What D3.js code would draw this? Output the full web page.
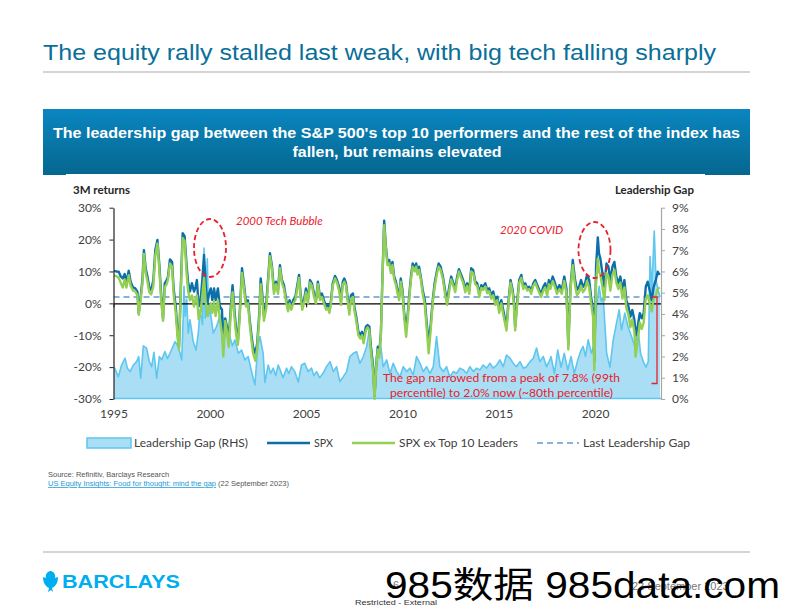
<!DOCTYPE html>
<html><head><meta charset="utf-8">
<script src="https://cdn.jsdelivr.net/npm/d3@7/dist/d3.min.js"></script>
<style>
body{margin:0;background:#fff;}
svg{display:block;}
</style></head>
<body>
<svg id="c" width="792" height="612"></svg>
<script>
// ---------- DATA ----------
const spxDates = [1995.03,1995.15,1995.27,1995.37,1995.48,1995.58,1995.67,1995.79,1995.89,1996.01,1996.13,1996.24,1996.31,1996.41,1996.50,1996.58,1996.67,1996.76,1996.86,1996.96,
1997.07,1997.17,1997.28,1997.38,1997.48,1997.57,1997.66,1997.76,1997.83,1997.93,1998.04,1998.12,1998.23,1998.33,1998.40,1998.50,1998.59,1998.69,1998.80,1998.87,1998.97,
1999.07,1999.18,1999.26,1999.33,1999.42,1999.53,1999.61,1999.70,1999.78,1999.87,1999.96,2000.05,2000.13,2000.22,2000.30,2000.42,2000.52,2000.63,2000.70,2000.80,2000.89,2000.98,
2001.08,2001.18,2001.29,2001.37,2001.46,2001.56,2001.67,2001.77,2001.88,2001.98,2002.07,2002.15,2002.24,2002.36,2002.46,2002.57,2002.64,2002.72,2002.81,2002.93,
2003.02,2003.12,2003.22,2003.33,2003.43,2003.54,2003.64,2003.74,2003.85,2003.97,2004.06,2004.14,2004.23,2004.33,2004.44,2004.54,2004.63,2004.71,2004.80,2004.89,2004.99,
2005.09,2005.20,2005.30,2005.41,2005.51,2005.61,2005.72,2005.82,2005.92,2006.04,2006.13,2006.21,2006.29,2006.38,2006.50,2006.60,2006.71,2006.81,2006.90,2006.98,
2007.07,2007.15,2007.24,2007.33,2007.43,2007.50,2007.60,2007.71,2007.81,2007.90,2007.98,2008.10,2008.19,2008.28,2008.36,2008.47,2008.55,2008.64,2008.72,2008.79,2008.88,2008.95,
2009.05,2009.14,2009.22,2009.31,2009.40,2009.48,2009.57,2009.66,2009.74,2009.83,2009.91,2010.00,2010.09,2010.19,2010.28,2010.36,2010.45,2010.53,2010.64,2010.71,2010.78,2010.86,2010.95,
2011.05,2011.16,2011.26,2011.36,2011.47,2011.57,2011.67,2011.78,2011.88,2011.98,2012.10,2012.22,2012.32,2012.43,2012.53,2012.64,2012.74,2012.84,2012.93,
2013.05,2013.15,2013.26,2013.36,2013.47,2013.57,2013.67,2013.78,2013.88,2013.99,2014.09,2014.19,2014.30,2014.40,2014.50,2014.61,2014.71,2014.82,2014.92,
2015.02,2015.13,2015.23,2015.33,2015.40,2015.51,2015.61,2015.72,2015.78,2015.85,2015.96,2016.06,2016.17,2016.27,2016.37,2016.48,2016.58,2016.68,2016.79,2016.89,
2017.00,2017.10,2017.20,2017.31,2017.41,2017.51,2017.60,2017.68,2017.80,2017.92,2018.02,2018.15,2018.27,2018.40,2018.51,2018.61,2018.72,2018.84,2018.96,
2019.06,2019.17,2019.27,2019.37,2019.48,2019.58,2019.69,2019.79,2019.89,2019.96,2020.05,2020.14,2020.20,2020.27,2020.38,2020.48,2020.59,2020.69,2020.79,2020.90,
2021.00,2021.10,2021.21,2021.31,2021.42,2021.52,2021.62,2021.73,2021.83,2021.93,2022.04,2022.10,2022.21,2022.32,2022.42,2022.52,2022.63,2022.73,2022.83,2022.94,
2023.04,2023.15,2023.25,2023.35];

const spx = [10.2,10.0,9.9,8.5,7.8,9.2,6.8,10.2,6.8,5.0,4.7,3.7,-3.1,2.1,7.3,16.7,11.0,8.4,5.0,4.2,
7.3,16.7,19.9,12.0,2.1,-4.7,6.3,7.3,8.4,13.8,13.0,4.7,-1.0,-9.4,-13.6,6.3,22.0,21.1,11.5,6.8,3.7,
6.3,3.7,5.2,7.3,-1.0,1.6,7.3,15.2,6.3,0.0,3.1,4.7,1.0,4.7,1.0,4.7,-1.0,-2.0,-13.6,-4.7,-7.3,-11.5,
-2.0,5.7,-3.0,-8.4,-11.5,-2.0,11.0,6.3,0.0,1.0,-5.2,-9.4,-13.6,-15.7,-12.5,-3.0,7.8,3.1,-3.7,0.0,
7.3,15.7,12.0,4.2,6.8,4.2,12.0,7.3,5.7,1.0,-1.6,1.0,-1.0,1.0,2.0,5.7,8.9,3.1,-1.0,1.0,4.7,
1.0,7.3,6.3,3.1,1.0,6.8,2.0,3.1,1.0,-1.0,-0.5,-2.0,1.0,6.3,8.6,7.3,5.2,1.0,6.8,7.8,
6.3,2.0,-2.0,2.6,3.1,-1.0,-4.2,-8.9,-9.9,-8.9,-11.5,-7.3,-6.8,-7.3,-13.6,-19.9,-29.0,-18.8,-13.6,-15.7,-9.4,6.3,
25.9,17.8,13.0,13.6,10.4,13.0,8.4,6.8,4.2,2.1,7.8,4.2,-3.1,-8.0,-3.1,3.1,8.9,12.5,11.0,12.5,9.9,11.5,8.4,
4.2,1.0,-6.3,-12.5,-6.3,1.0,6.3,9.9,12.5,11.5,8.4,3.7,1.0,5.2,8.4,6.3,4.7,8.4,10.7,
8.9,7.3,4.7,6.3,4.2,11.0,10.4,6.8,6.3,3.1,5.7,5.2,6.3,4.2,4.7,2.6,3.7,1.0,2.1,
-1.6,1.0,-2.1,-5.2,-7.3,1.0,7.3,4.2,1.0,-7.3,1.0,7.3,8.9,5.2,6.3,4.7,5.2,3.7,6.3,7.3,
5.7,4.2,3.1,5.2,6.3,3.7,7.3,5.7,8.4,6.3,4.2,5.7,4.2,8.4,4.7,-13.0,5.2,13.6,7.3,
4.2,5.2,7.3,5.2,6.3,8.9,7.3,2.1,-2.1,-18.0,11.5,20.7,15.7,14.1,9.4,5.2,12.5,11.5,7.3,11.5,
13.0,8.4,6.3,8.4,4.0,7.3,1.0,-1.0,-4.2,-2.1,-5.2,-10.0,-7.3,-3.1,-4.7,-3.1,5.2,6.8,4.2,1.0,
5.2,7.3,9.9,8.9];

const spxEx = [8.8,8.5,8.0,6.5,5.0,7.5,5.0,8.8,5.5,4.0,3.8,2.5,-3.6,1.0,6.0,15.5,9.5,7.0,3.5,2.8,
5.5,15.0,18.8,10.5,0.5,-5.5,5.0,6.0,7.5,12.5,11.5,3.0,-3.0,-11.0,-14.5,4.5,20.5,19.5,9.0,4.0,1.0,
2.5,-1.0,1.5,2.5,-5.0,-2.5,2.5,8.0,1.0,-4.0,-2.0,0.0,-3.0,0.5,-4.0,1.0,-5.0,-9.4,-16.7,-5.5,-9.0,-13.6,
-4.0,3.5,-5.0,-10.0,-13.0,-3.5,9.5,5.0,-1.0,0.0,-6.5,-11.0,-15.5,-18.0,-14.0,-4.5,6.0,1.5,-5.5,-1.5,
6.0,14.8,11.0,3.0,6.0,3.0,11.0,6.5,4.5,0.0,-2.5,0.0,-2.0,0.0,1.0,4.5,8.0,2.0,-2.0,0.0,3.5,
0.0,6.5,5.5,2.0,0.0,6.0,1.0,2.0,0.0,-2.0,-1.5,-3.0,0.0,5.5,7.8,6.5,4.0,-0.5,5.8,6.8,
5.5,1.0,-3.5,1.5,2.0,-2.0,-5.5,-10.0,-11.0,-10.0,-12.5,-8.5,-7.5,-8.5,-15.0,-21.0,-30.0,-19.5,-14.5,-17.0,-10.0,5.5,
24.5,17.0,12.0,12.5,9.5,12.0,7.5,5.8,3.2,1.0,6.8,3.0,-4.5,-10.5,-4.5,2.0,8.0,11.5,10.0,11.5,9.0,10.5,7.5,
3.0,-0.5,-8.0,-15.7,-8.0,0.0,5.0,9.0,11.5,10.5,7.5,2.5,-0.5,4.0,7.5,5.5,3.5,7.5,10.0,
8.0,6.5,3.5,5.5,3.0,10.0,9.5,6.0,5.5,2.0,4.8,4.2,5.3,3.2,3.8,1.5,2.5,-0.5,1.0,
-3.0,0.0,-3.5,-6.5,-8.5,0.0,6.5,3.2,0.0,-8.5,0.0,6.5,8.0,4.5,5.5,4.0,4.5,3.0,5.5,6.5,
4.8,3.3,2.0,4.0,5.0,2.5,6.0,4.5,7.0,5.0,3.0,4.5,3.0,7.0,3.0,-14.5,4.0,12.0,5.5,
2.5,3.5,5.5,3.5,4.5,7.0,5.0,0.0,-4.0,-21.0,6.0,14.0,10.0,9.0,5.0,1.0,9.5,8.5,4.0,9.0,
10.5,6.5,4.5,6.5,1.5,5.0,-1.5,-3.5,-7.5,-5.0,-9.0,-16.7,-12.0,-6.0,-8.0,-6.0,1.5,2.5,0.0,-2.5,
1.5,2.5,4.5,5.0];

const gapDates = [1995.03,1995.25,1995.42,1995.60,1995.72,1995.86,1996.03,1996.20,1996.31,1996.41,1996.55,1996.72,1996.85,1996.98,1997.10,1997.24,1997.38,1997.50,1997.67,1997.80,1997.93,
1998.05,1998.19,1998.37,1998.54,1998.62,1998.66,1998.72,1998.80,1998.88,1998.97,1999.14,1999.28,1999.40,1999.49,1999.62,1999.70,1999.76,1999.87,1999.93,
2000.01,2000.18,2000.35,2000.53,2000.70,2000.87,2001.04,2001.17,2001.30,2001.48,2001.65,2001.82,2001.99,2002.17,2002.34,2002.50,2002.60,2002.77,2002.86,
2003.03,2003.16,2003.29,2003.42,2003.55,2003.68,2003.80,2003.98,2004.10,2004.24,2004.41,2004.59,2004.76,2004.93,2005.10,2005.28,2005.40,2005.54,2005.70,2005.88,
2006.04,2006.24,2006.41,2006.58,2006.75,2006.93,2007.10,2007.27,2007.45,2007.62,2007.79,2007.97,2008.14,2008.28,2008.40,2008.50,2008.57,2008.66,2008.74,2008.86,
2009.00,2009.18,2009.35,2009.52,2009.70,2009.87,2010.04,2010.22,2010.39,2010.56,2010.73,2010.91,2011.08,2011.25,2011.43,2011.60,2011.77,2011.94,
2012.12,2012.29,2012.46,2012.64,2012.81,2012.98,2013.16,2013.33,2013.50,2013.68,2013.85,2014.02,2014.19,2014.37,2014.54,2014.71,2014.89,
2015.06,2015.23,2015.40,2015.58,2015.75,2015.92,2016.10,2016.27,2016.44,2016.62,2016.79,2016.96,2017.13,2017.31,2017.48,2017.65,2017.71,2017.89,
2018.06,2018.23,2018.40,2018.58,2018.75,2018.92,2019.10,2019.27,2019.38,2019.50,2019.64,2019.81,2019.96,2020.07,2020.21,2020.32,2020.42,2020.60,2020.77,2020.94,
2021.11,2021.25,2021.37,2021.54,2021.71,2021.89,2022.06,2022.23,2022.36,2022.50,2022.64,2022.76,2022.85,2022.94,2023.07,2023.16,2023.28,2023.37];

const gap = [1.50,1.05,1.60,1.92,1.45,1.29,1.60,1.76,2.00,0.98,2.50,2.39,1.80,1.52,2.20,0.98,2.00,1.84,2.23,1.90,2.15,
2.40,2.70,2.47,1.84,3.90,5.30,3.90,4.70,3.10,3.73,2.70,2.30,3.10,4.20,3.50,7.10,3.80,6.60,3.90,
4.20,3.10,3.40,3.95,3.80,3.40,2.94,2.50,2.78,2.15,2.30,1.84,2.00,1.29,0.66,2.60,2.94,2.15,0.78,
1.60,1.20,1.45,1.10,1.60,1.30,1.00,1.45,1.20,1.52,1.29,0.80,1.60,1.68,1.29,1.45,1.10,1.29,1.00,1.21,
1.50,1.76,1.29,1.52,0.82,1.05,1.29,2.00,2.15,2.23,1.68,2.00,2.47,3.26,2.30,1.60,0.10,1.50,2.15,2.60,
1.52,1.84,1.20,1.68,1.29,1.05,1.52,1.29,1.45,1.13,2.00,1.68,1.29,1.52,1.21,1.52,2.94,1.52,
1.29,1.52,1.05,1.29,1.21,1.45,1.37,1.21,1.52,1.29,1.45,1.37,1.60,1.45,1.68,1.45,1.60,
1.84,1.52,2.07,1.92,1.68,1.52,1.76,1.45,1.52,1.76,1.92,2.40,1.76,2.00,1.52,1.84,2.00,1.20,
2.30,1.50,2.15,1.37,2.00,1.20,1.84,2.30,2.47,2.00,2.78,2.15,2.60,4.35,5.30,4.60,4.80,2.15,1.50,2.78,
3.57,4.20,3.25,4.04,3.40,2.94,2.47,3.25,2.15,1.76,1.50,1.76,6.70,5.10,7.90,5.60,5.10,4.80];

const lastGap = 2.0;
const leftTicks = [-30,-20,-10,0,10,20,30];
const rightTicks = [0,1,2,3,4,5,6,7,8,9];
const yearTicks = [1995,2000,2005,2010,2015,2020];

// ---------- LAYOUT ----------
const svg = d3.select('#c');
const F = "Lato, 'Open Sans', sans-serif";
const A = "'Liberation Sans', Arial, sans-serif";

// title
svg.append('text').attr('x',43).attr('y',60).attr('font-family',A).attr('font-size',22)
  .attr('fill','#0a6f98').attr('textLength',673).attr('lengthAdjust','spacingAndGlyphs')
  .text('The equity rally stalled last weak, with big tech falling sharply');
svg.append('rect').attr('x',43).attr('y',71).attr('width',707).attr('height',2).attr('fill','#d4d4d4');

// header box
const defs = svg.append('defs');
const lg = defs.append('linearGradient').attr('id','hb').attr('x1',0).attr('y1',0).attr('x2',0).attr('y2',1);
lg.append('stop').attr('offset','0%').attr('stop-color','#0a86c0');
lg.append('stop').attr('offset','100%').attr('stop-color','#05678f');
svg.append('rect').attr('x',43).attr('y',109).attr('width',707).attr('height',66).attr('fill','url(#hb)');
svg.append('rect').attr('x',66).attr('y',174).attr('width',639).attr('height',2).attr('fill','#fff');
svg.append('text').attr('x',396.5).attr('y',138).attr('text-anchor','middle').attr('font-family',A)
  .attr('font-weight','bold').attr('font-size',15).attr('fill','#fff')
  .attr('textLength',687).attr('lengthAdjust','spacingAndGlyphs')
  .text("The leadership gap between the S&P 500's top 10 performers and the rest of the index has");
svg.append('text').attr('x',397).attr('y',157).attr('text-anchor','middle').attr('font-family',A)
  .attr('font-weight','bold').attr('font-size',15).attr('fill','#fff')
  .attr('textLength',209).attr('lengthAdjust','spacingAndGlyphs')
  .text('fallen, but remains elevated');

// chart scales
const x = d3.scaleLinear().domain([1995, 2023.42]).range([113.5, 661]);
const yL = d3.scaleLinear().domain([-30, 30]).range([399, 207.7]);
const yR = d3.scaleLinear().domain([0, 9]).range([399, 207.7]);

const g = svg.append('g');

// gap area
const gapData = d3.zip(gapDates, gap);
g.append('path').datum(gapData)
  .attr('d', d3.area().x(d=>x(d[0])).y0(yR(0)).y1(d=>yR(d[1])))
  .attr('fill','#a9def5');
g.append('path').datum(gapData)
  .attr('d', d3.line().x(d=>x(d[0])).y(d=>yR(d[1])))
  .attr('fill','none').attr('stroke','#5ec6ef').attr('stroke-width',1.6).attr('stroke-linejoin','round');
g.append('line').attr('x1',x(1995)).attr('x2',x(2023.42)).attr('y1',yR(0)-0.5).attr('y2',yR(0)-0.5)
  .attr('stroke','#5ec6ef').attr('stroke-width',1.5);

// dashed last gap line
g.append('line').attr('x1',x(1995)).attr('x2',x(2023.42)).attr('y1',yL(lastGap)).attr('y2',yL(lastGap))
  .attr('stroke','#86b2dc').attr('stroke-width',2).attr('stroke-dasharray','6,4');

// x axis at zero
const xAxis = g.append('g').attr('transform',`translate(0,${yL(0)})`)
  .call(d3.axisBottom(x).tickValues(yearTicks).tickFormat(d3.format('d')).tickSizeInner(4).tickSizeOuter(0));
xAxis.select('.domain').attr('stroke','#000').attr('stroke-width',1.2);
xAxis.selectAll('.tick line').attr('stroke','#000');
xAxis.selectAll('.tick text').attr('y', 418 - yL(0)).attr('dy',0).attr('font-family',F)
  .attr('font-size',12).attr('fill','#404040');

// series lines
const spxData = spxDates.map((t,i)=>[t, spx[i], spxEx[i]]);
g.append('path').datum(spxData)
  .attr('d', d3.line().x(d=>x(d[0])).y(d=>yL(d[1])))
  .attr('fill','none').attr('stroke','#0b6fa9').attr('stroke-width',2.4).attr('stroke-linejoin','round');
g.append('path').datum(spxData)
  .attr('d', d3.line().x(d=>x(d[0])).y(d=>yL(d[2])))
  .attr('fill','none').attr('stroke','#92cf52').attr('stroke-width',2.4).attr('stroke-linejoin','round');

// left axis
const la = g.append('g').attr('transform',`translate(${x(1995)},0)`)
  .call(d3.axisLeft(yL).tickValues(leftTicks).tickFormat(d=>d+'%').tickSizeInner(4).tickSizeOuter(0).tickPadding(8));
la.select('.domain').attr('stroke','#222').attr('stroke-width',1.2);
la.selectAll('.tick line').attr('stroke','#222');
la.selectAll('.tick text').attr('font-family',F).attr('font-size',12).attr('fill','#404040');

// right axis
const ra = g.append('g').attr('transform',`translate(${x(2023.42)},0)`)
  .call(d3.axisRight(yR).tickValues(rightTicks).tickFormat(d=>d+'%').tickSizeInner(4).tickSizeOuter(0).tickPadding(7));
ra.select('.domain').attr('stroke','#a6a6a6').attr('stroke-width',1.2);
ra.selectAll('.tick line').attr('stroke','#a6a6a6');
ra.selectAll('.tick text').attr('font-family',F).attr('font-size',12).attr('fill','#404040');

// axis titles
svg.append('text').attr('x',73).attr('y',194).attr('font-family',F).attr('font-weight','bold')
  .attr('font-size',11.5).attr('fill','#262626').text('3M returns');
svg.append('text').attr('x',694).attr('y',194).attr('text-anchor','end').attr('font-family',F).attr('font-weight','bold')
  .attr('font-size',11.5).attr('fill','#262626').text('Leadership Gap');

// annotations
const red = '#e8212b';
svg.append('ellipse').attr('cx',210).attr('cy',248).attr('rx',16).attr('ry',29)
  .attr('fill','none').attr('stroke',red).attr('stroke-width',1.8).attr('stroke-dasharray','5,3');
svg.append('ellipse').attr('cx',594.5).attr('cy',250).attr('rx',16).attr('ry',28)
  .attr('fill','none').attr('stroke',red).attr('stroke-width',1.8).attr('stroke-dasharray','5,3');
svg.append('text').attr('x',236).attr('y',225).attr('font-family',F).attr('font-style','italic')
  .attr('font-size',11.5).attr('fill',red).text('2000 Tech Bubble');
svg.append('text').attr('x',500).attr('y',234).attr('font-family',F).attr('font-style','italic')
  .attr('font-size',11.5).attr('fill',red).text('2020 COVID');
svg.append('text').attr('x',501.5).attr('y',381.5).attr('text-anchor','middle').attr('font-family',F)
  .attr('font-size',12).attr('fill',red).attr('textLength',237).attr('lengthAdjust','spacingAndGlyphs')
  .text('The gap narrowed from a peak of 7.8% (99th');
svg.append('text').attr('x',501.5).attr('y',397).attr('text-anchor','middle').attr('font-family',F)
  .attr('font-size',12).attr('fill',red).attr('textLength',223).attr('lengthAdjust','spacingAndGlyphs')
  .text('percentile) to 2.0% now (~80th percentile)');
svg.append('path').attr('d','M652,297 L657,297 L657,383.5 L651.5,383.5')
  .attr('fill','none').attr('stroke',red).attr('stroke-width',1.3);

// legend
const ly = 443;
svg.append('rect').attr('x',87).attr('y',ly-5).attr('width',44).attr('height',10)
  .attr('fill','#a9def5').attr('stroke','#5ec6ef').attr('stroke-width',1.5);
svg.append('line').attr('x1',267).attr('x2',310).attr('y1',ly).attr('y2',ly).attr('stroke','#0b6fa9').attr('stroke-width',2.4);
svg.append('line').attr('x1',352).attr('x2',395).attr('y1',ly).attr('y2',ly).attr('stroke','#92cf52').attr('stroke-width',2.4);
svg.append('line').attr('x1',537).attr('x2',579).attr('y1',ly).attr('y2',ly).attr('stroke','#86b2dc')
  .attr('stroke-width',2).attr('stroke-dasharray','6,4');
const legTxt = [[134,'Leadership Gap (RHS)',114],[314,'SPX',19],[399,'SPX ex Top 10 Leaders',119],[583,'Last Leadership Gap',107]];
legTxt.forEach(([lx,t,w])=>{
  svg.append('text').attr('x',lx).attr('y',ly+4).attr('font-family',F).attr('font-size',12)
    .attr('fill','#404040').attr('textLength',w).attr('lengthAdjust','spacingAndGlyphs').text(t);
});

// source
svg.append('text').attr('x',48).attr('y',477).attr('font-family',A).attr('font-size',7.5)
  .attr('fill','#555').text('Source: Refinitiv, Barclays Research');
const src = svg.append('text').attr('x',48).attr('y',486).attr('font-family',A).attr('font-size',7.5);
src.append('tspan').attr('fill','#1a9ad6').attr('text-decoration','underline')
  .text('US Equity Insights: Food for thought: mind the gap');
src.append('tspan').attr('fill','#555').text(' (22 September 2023)');

// footer
svg.append('rect').attr('x',43).attr('y',551).attr('width',707).attr('height',2).attr('fill','#d4d4d4');
// Barclays eagle (simplified)
svg.append('path').attr('d','M50,571 C47,572 45,575 46,578 L43,577 C43,582 45,586 49,588 L48,592 L51,590 L53,592 L52,588 C56,586 58,582 58,577 L55,578 C56,575 54,572 51,571 Z')
  .attr('fill','#00aeef');
svg.append('text').attr('x',62).attr('y',588).attr('font-family',A).attr('font-weight','bold')
  .attr('font-size',18).attr('fill','#00aeef').attr('textLength',118).attr('lengthAdjust','spacingAndGlyphs').text('BARCLAYS');
svg.append('text').attr('x',393).attr('y',589).attr('font-family',A).attr('font-size',11).attr('fill','#777').text('6');
svg.append('text').attr('x',632).attr('y',590).attr('font-family',A).attr('font-size',11).attr('fill','#777').text('22 September 2023');
svg.append('text').attr('x',355).attr('y',605).attr('font-family',A).attr('font-size',7.5).attr('fill','#333')
  .attr('textLength',82).attr('lengthAdjust','spacingAndGlyphs').text('Restricted - External');
svg.append('text').attr('x',385).attr('y',598).attr('font-family',"'Liberation Sans', 'Noto Sans CJK SC', sans-serif")
  .attr('font-size',36).attr('fill','#000').attr('textLength',395).attr('lengthAdjust','spacingAndGlyphs')
  .text('985数据 985data.com');
</script>
</body></html>
